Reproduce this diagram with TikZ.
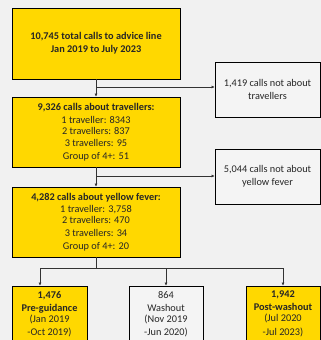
\documentclass[tikz,border=0pt]{standalone}
\usepackage{fontspec}
\setmainfont{Carlito}
\usetikzlibrary{arrows.meta,calc}
\definecolor{bg}{HTML}{F1F1F1}
\definecolor{ylw}{HTML}{FFD800}
\definecolor{gbox}{HTML}{F4F4F4}
\definecolor{ln}{HTML}{333333}
\tikzset{
  box/.style={draw=black, line width=0.6pt, align=center, inner sep=0pt, font=\fontsize{10.3}{12.5}\selectfont, text=black!85},
  ybox/.style={box, fill=ylw},
  wbox/.style={box, fill=gbox},
  conn/.style={draw=ln, line width=0.6pt, -{Latex[length=3.2pt,width=3.2pt]}},
  plain/.style={draw=ln, line width=0.6pt}
}
\begin{document}
\begin{tikzpicture}[x=1pt,y=-1pt]
\useasboundingbox[fill=bg] (0,0) rectangle (321,340);
\node[ybox, minimum width=168pt, minimum height=71pt] (b1) at (96,43.5)
  {\textbf{10,745 total calls to advice line}\\[0.5pt]\textbf{Jan 2019 to July 2023}};
\node[wbox, minimum width=105pt, minimum height=55pt] (r1) at (267.5,89.5)
  {1,419 calls not about\\travellers};
\node[ybox, minimum width=168pt, minimum height=70pt] (b2) at (96,132)
  {\textbf{9,326 calls about travellers:}\\1 traveller: 8343\\[-1.5pt]2 travellers: 837\\3 travellers: 95\\Group of 4+: 51};
\node[wbox, minimum width=105pt, minimum height=55pt] (r2) at (267.5,176.5)
  {5,044 calls not about\\yellow fever};
\node[ybox, minimum width=168pt, minimum height=70pt] (b3) at (96,222)
  {\textbf{4,282 calls about yellow fever:}\\1 traveller: 3,758\\[-2pt]2 travellers: 470\\[1pt]3 travellers: 34\\Group of 4+: 20};
\node[ybox, minimum width=75pt, minimum height=56pt] (c1) at (49.5,314)
  {\textbf{1,476}\\[0.5pt]\textbf{Pre-guidance}\\[-1.5pt](Jan 2019\\[1pt]-Oct 2019)};
\node[wbox, minimum width=74pt, minimum height=56pt] (c2) at (166,314)
  {864\\[0.5pt]Washout\\[-1.5pt](Nov 2019\\[1pt]-Jun 2020)};
\node[ybox, minimum width=74pt, minimum height=56pt] (c3) at (283,314)
  {\textbf{1,942}\\[0.5pt]\textbf{Post-washout}\\[-1.5pt](Jul 2020\\[1pt]-Jul 2023)};
\coordinate (j1) at (96,87);
\coordinate (j2) at (96,176);
\coordinate (j3) at (96,268);
\coordinate (t1) at (40,268);
\coordinate (t3) at (283,268);
\draw[conn] (b1.south) -- (b2.north);
\draw[conn] (j1) -- (j1 -| r1.west);
\draw[conn] (b2.south) -- (b3.north);
\draw[conn] (j2) -- (j2 -| r2.west);
\draw[plain] (b3.south) -- (j3);
\draw[plain] (t1) -- (t3);
\draw[conn] (t1) -- (t1 |- c1.north);
\draw[conn] (j3 -| c2.north) -- (c2.north);
\draw[conn] (t3) -- (c3.north);
\end{tikzpicture}
\end{document}
